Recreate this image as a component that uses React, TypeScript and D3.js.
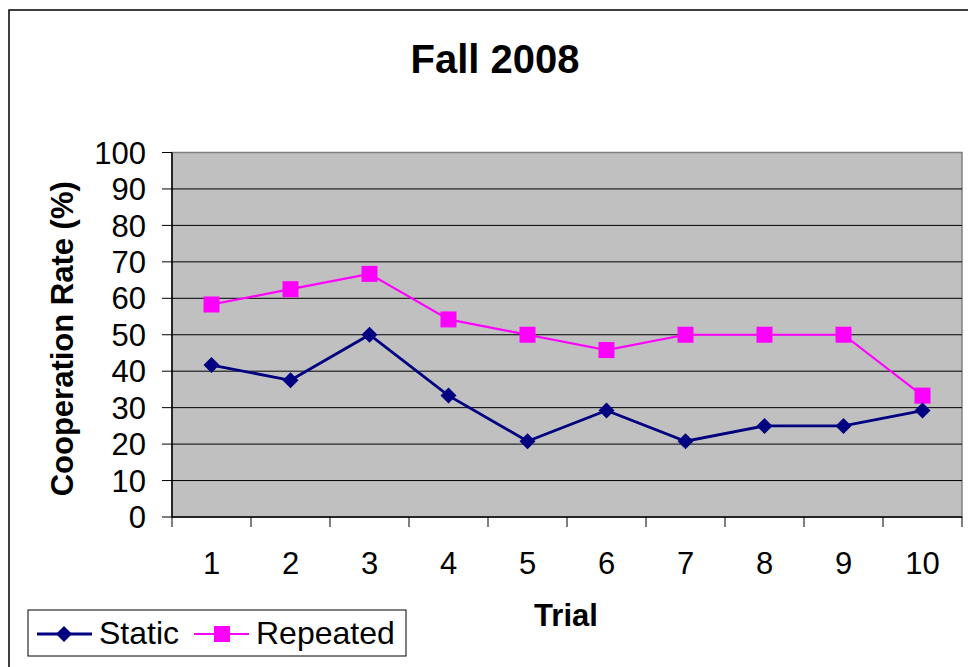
import * as d3 from "d3";

const trials = ["1", "2", "3", "4", "5", "6", "7", "8", "9", "10"];
const staticRate = [41.7, 37.5, 50, 33.3, 20.8, 29.2, 20.8, 25, 25, 29.2];
const repeatedRate = [58.3, 62.5, 66.7, 54.2, 50, 45.8, 50, 50, 50, 33.3];
const yTicks = [0, 10, 20, 30, 40, 50, 60, 70, 80, 90, 100];

const NAVY = "#000080";
const MAGENTA = "#FF00FF";
const FONT = "Arial, 'Liberation Sans', sans-serif";

export default function App() {
  const W = 968, H = 667;
  const m = { left: 172, right: 962, top: 152.5, bottom: 517 };

  const x = d3.scaleBand<string>().domain(trials).range([m.left, m.right]);
  const y = d3.scaleLinear().domain([0, 100]).range([m.bottom, m.top]);
  const cx = (t: string) => (x(t) ?? 0) + x.bandwidth() / 2;

  const line = d3.line<number>()
    .x((_, i) => cx(trials[i]))
    .y(d => y(d));

  const diamond = (r: number) => `M0,${-r}L${r},0L0,${r}L${-r},0Z`;

  return (
    <svg width={W} height={H} style={{ position: "fixed", left: 0, top: 0, background: "#fff" }} fontFamily={FONT}>
      {/* outer chart border */}
      <rect x={9} y={10} width={W + 20} height={H + 20} fill="#fff" stroke="#000" strokeWidth={1.5} />

      <text x={495} y={73} textAnchor="middle" fontSize={40} fontWeight="bold">Fall 2008</text>

      {/* plot area */}
      <rect x={m.left} y={m.top} width={m.right - m.left} height={m.bottom - m.top} fill="#C0C0C0" stroke="#808080" strokeWidth={1.5} />

      {yTicks.map(t => (
        <g key={t}>
          {t > 0 && t < 100 && (
            <line x1={m.left} x2={m.right} y1={y(t)} y2={y(t)} stroke="#000" strokeWidth={1} />
          )}
          <line x1={m.left - 10} x2={m.left} y1={y(t)} y2={y(t)} stroke="#000" strokeWidth={1} />
          <text x={146} y={y(t)} dy="0.36em" textAnchor="end" fontSize={31}>{t}</text>
        </g>
      ))}

      {/* axes */}
      <line x1={m.left} x2={m.left} y1={m.top} y2={m.bottom} stroke="#000" strokeWidth={1.5} />
      <line x1={m.left} x2={m.right} y1={m.bottom} y2={m.bottom} stroke="#000" strokeWidth={1.5} />

      {trials.map((t, i) => (
        <g key={t}>
          <line x1={x(t) ?? 0} x2={x(t) ?? 0} y1={m.bottom} y2={m.bottom + 10} stroke="#000" strokeWidth={1} />
          {i === trials.length - 1 && (
            <line x1={m.right} x2={m.right} y1={m.bottom} y2={m.bottom + 10} stroke="#000" strokeWidth={1} />
          )}
          <text x={cx(t)} y={574} textAnchor="middle" fontSize={31}>{t}</text>
        </g>
      ))}

      {/* series */}
      <path d={line(repeatedRate) ?? ""} fill="none" stroke={MAGENTA} strokeWidth={2.2} />
      <path d={line(staticRate) ?? ""} fill="none" stroke={NAVY} strokeWidth={2.8} />
      {repeatedRate.map((v, i) => (
        <rect key={i} x={cx(trials[i]) - 8} y={y(v) - 8} width={16} height={16} fill={MAGENTA} />
      ))}
      {staticRate.map((v, i) => (
        <path key={i} d={diamond(8)} transform={`translate(${cx(trials[i])},${y(v)})`} fill={NAVY} />
      ))}

      {/* axis titles */}
      <text x={566} y={626} textAnchor="middle" fontSize={31} fontWeight="bold">Trial</text>
      <text transform={`translate(73,${(m.top + m.bottom) / 2 + 4}) rotate(-90)`} textAnchor="middle" fontSize={31} fontWeight="bold">
        Cooperation Rate (%)
      </text>

      {/* legend */}
      <rect x={28} y={610} width={378} height={46} fill="#fff" stroke="#000" strokeWidth={1} />
      <line x1={37} x2={92} y1={634} y2={634} stroke={NAVY} strokeWidth={2.8} />
      <path d={diamond(8)} transform="translate(64,634)" fill={NAVY} />
      <text x={99} y={644} fontSize={32}>Static</text>
      <line x1={194} x2={249} y1={634} y2={634} stroke={MAGENTA} strokeWidth={2.2} />
      <rect x={214} y={626} width={16} height={16} fill={MAGENTA} />
      <text x={256} y={644} fontSize={32}>Repeated</text>
    </svg>
  );
}
